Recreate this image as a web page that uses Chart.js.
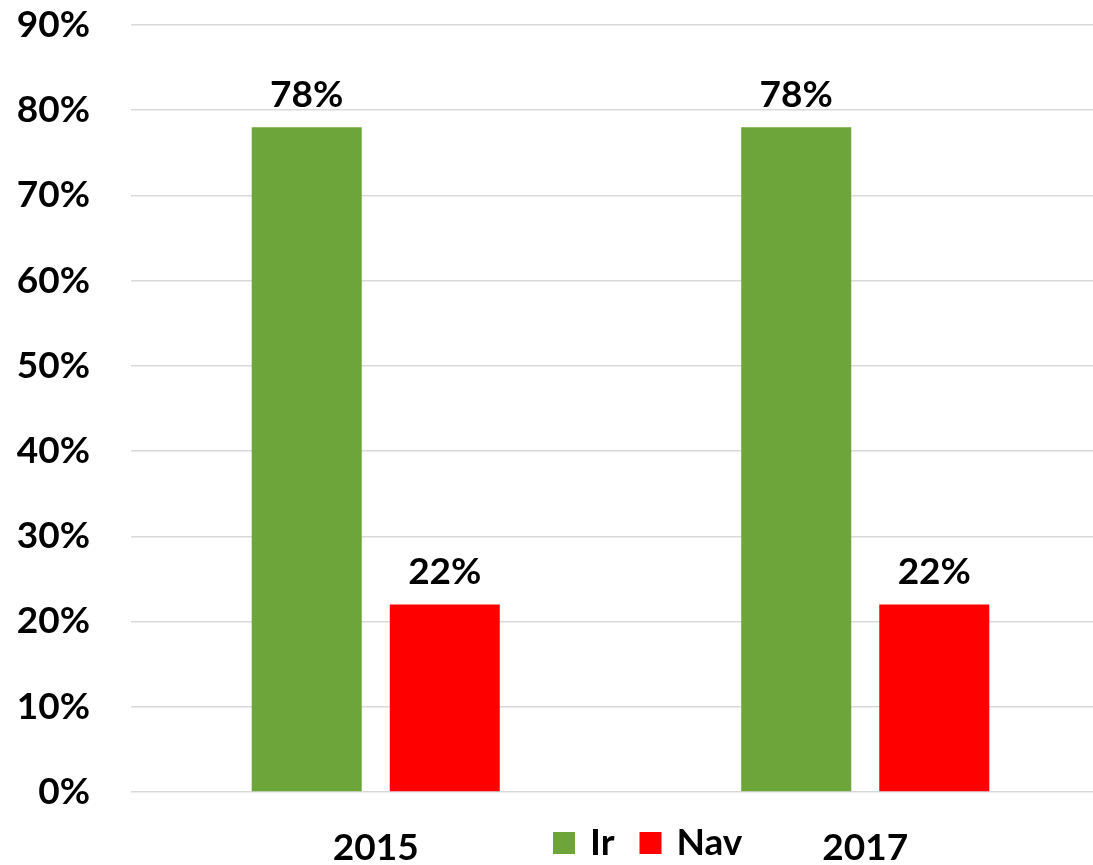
<!DOCTYPE html>
<html>
<head>
<meta charset="utf-8">
<script src="https://cdn.jsdelivr.net/npm/chart.js@4"></script>
<style>
  html, body { margin: 0; padding: 0; background: #fff; overflow: hidden; }
  #wrap { width: 1110px; height: 865px; }
</style>
</head>
<body>
<div id="wrap"><canvas id="barChart"></canvas></div>
<script>
const years = ['2015', '2017'];
const irValues = [78, 78];
const navValues = [22, 22];
const seriesNames = ['Ir', 'Nav'];
const yTicks = [0, 10, 20, 30, 40, 50, 60, 70, 80, 90];

const FONT = 'Lato, "Open Sans", sans-serif';

// value labels above each bar
const valueLabels = {
    id: 'valueLabels',
    afterDatasetsDraw(chart) {
        const ctx = chart.ctx;
        ctx.save();
        ctx.font = 'bold 37px ' + FONT;
        ctx.fillStyle = '#000';
        ctx.textAlign = 'center';
        ctx.textBaseline = 'bottom';
        chart.data.datasets.forEach((ds, i) => {
            chart.getDatasetMeta(i).data.forEach((bar, j) => {
                ctx.fillText(ds.data[j] + '%', bar.x, bar.y - 14);
            });
        });
        ctx.restore();
    }
};

// legend sitting between the two year labels
const bottomLegend = {
    id: 'bottomLegend',
    afterDraw(chart) {
        const ctx = chart.ctx;
        ctx.save();
        ctx.font = 'bold 37px ' + FONT;
        ctx.textBaseline = 'middle';
        ctx.textAlign = 'left';
        let x = 553;
        const y = 843;
        chart.data.datasets.forEach(ds => {
            ctx.fillStyle = ds.backgroundColor;
            ctx.fillRect(x, y - 11, 22, 22);
            ctx.fillStyle = '#000';
            ctx.fillText(ds.label, x + 37, y);
            x += 37 + ctx.measureText(ds.label).width + 25;
        });
        ctx.restore();
    }
};

document.addEventListener('DOMContentLoaded', function() {
    const ctx = document.getElementById('barChart').getContext('2d');
    new Chart(ctx, {
        type: 'bar',
        data: {
            labels: years,
            datasets: [{
                label: seriesNames[0],
                data: irValues,
                backgroundColor: '#6ea53b'
            }, {
                label: seriesNames[1],
                data: navValues,
                backgroundColor: '#ff0000'
            }]
        },
        options: {
            responsive: true,
            maintainAspectRatio: false,
            animation: false,
            layout: { padding: { top: 25, right: 0, left: 0, bottom: 0 } },
            datasets: {
                bar: { categoryPercentage: 0.564, barPercentage: 0.797 }
            },
            plugins: {
                legend: { display: false },
                tooltip: { enabled: false }
            },
            scales: {
                x: {
                    grid: { display: false },
                    border: { display: false },
                    ticks: {
                        color: '#000',
                        font: { family: FONT, size: 37, weight: 'bold' },
                        padding: 26
                    },
                    afterFit: s => {
                        s.height = 73;
                        s.paddingLeft = 0;
                        s.paddingRight = 0;
                    }
                },
                y: {
                    min: 0,
                    max: 90,
                    afterBuildTicks: s => { s.ticks = yTicks.map(v => ({ value: v })); },
                    grid: { color: '#d9d9d9', lineWidth: 1.5, drawTicks: false },
                    border: { display: false },
                    ticks: {
                        color: '#000',
                        font: { family: FONT, size: 37, weight: 'bold' },
                        padding: 41,
                        callback: v => v + '%'
                    },
                    afterFit: s => {
                        s.width = 131;
                        s.paddingTop = 0;
                        s.paddingBottom = 0;
                    }
                }
            }
        },
        plugins: [valueLabels, bottomLegend]
    });
});
</script>
</body>
</html>
